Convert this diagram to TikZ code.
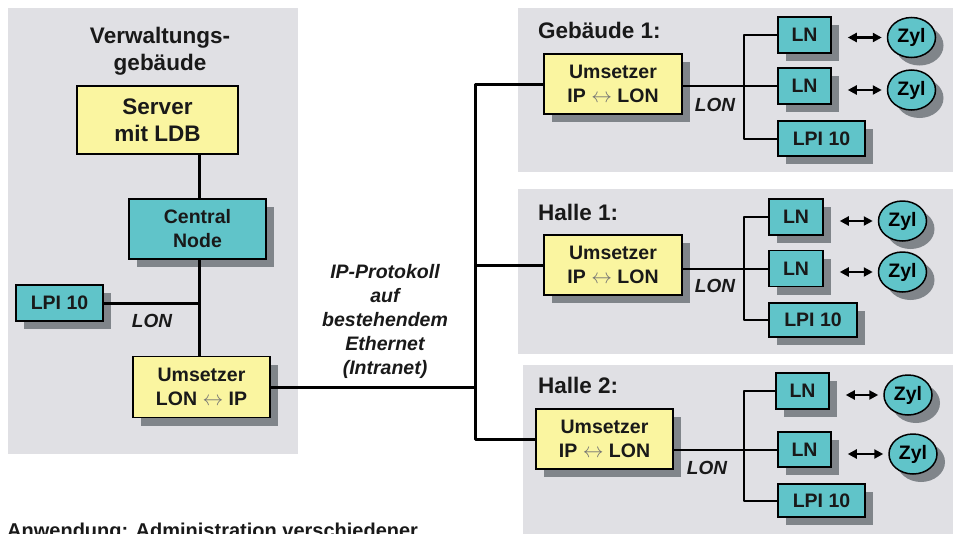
\documentclass[tikz,border=0pt]{standalone}
\usepackage{fontspec}
\setmainfont{Liberation Sans}
\usetikzlibrary{shapes.geometric,shadows,arrows.meta,calc}
\definecolor{panelgray}{RGB}{224,224,228}
\definecolor{boxyellow}{RGB}{250,245,160}
\definecolor{boxteal}{RGB}{96,196,201}
\definecolor{shadowgray}{RGB}{128,133,138}
\newcommand\bxf{\fontsize{19.5}{24}\selectfont\bfseries}
\newcommand\ttlf{\fontsize{22.5}{27}\selectfont\bfseries}
\newcommand\lonf{\fontsize{19}{24}\selectfont\bfseries\itshape}
\newcommand\lra{{\color{black!55}$\leftrightarrow$}}
\begin{document}
\begin{tikzpicture}[x=1pt,y=-1pt,
  panel/.style={fill=panelgray, draw=none},
  box/.style={draw=black, line width=1.5pt, inner sep=0pt, align=center, font=\bxf, text=black!90},
  shd/.style={general shadow={fill=shadowgray, shadow xshift=8pt, shadow yshift=-8pt}},
  ybox/.style={box, fill=boxyellow},
  tbox/.style={box, fill=boxteal},
  lnbox/.style={tbox, shd, minimum width=53pt, minimum height=36pt},
  lpibox/.style={tbox, shd, minimum width=87pt, minimum height=35pt},
  umsbox/.style={ybox, shd, minimum width=138pt, minimum height=60pt},
  zyl/.style={ellipse, draw=black, line width=1.5pt, fill=boxteal, inner sep=0pt,
    minimum width=48pt, minimum height=40pt, font=\bxf, shd},
  bus/.style={line width=3pt, line join=round},
  link/.style={line width=2pt, line join=round},
  bi/.style={line width=2.2pt, {Triangle[length=9pt,width=9pt]}-{Triangle[length=9pt,width=9pt]}},
  ttl/.style={font=\ttlf, inner sep=0pt, align=center, text=black!90},
  lon/.style={font=\lonf, inner sep=0pt, text=black!90}
]
\useasboundingbox (0,0) rectangle (953,533);
\clip (0,0) rectangle (953,533);

% background panels
\fill[panelgray] (8,8) rectangle (298,454);
\fill[panelgray] (518,8) rectangle (953,172);
\fill[panelgray] (518,189) rectangle (953,354);
\fill[panelgray] (523,365) rectangle (953,545);

% administration building
\node[ttl] (title0) at (160,51) {Verwaltungs-\\gebäude};
\node[ybox, font=\ttlf, minimum width=161pt, minimum height=68pt] (srv) at (157.5,120) {Server\\mit LDB};
\node[tbox, shd, minimum width=137pt, minimum height=60pt] (cn) at (197.5,229) {Central\\Node};
\node[tbox, shd, minimum width=87pt, minimum height=36pt] (lpi0) at (59.5,303) {LPI 10};
\node[ybox, shd, minimum width=137pt, minimum height=61pt] (umsL) at (201.5,387) {Umsetzer\\LON \lra{} IP};
\node[lon] (lon0) at (152,321) {LON};
\coordinate (jx) at (199,0);
\draw[bus] (srv.south -| jx) -- (cn.north -| jx);
\draw[bus] (cn.south -| jx) -- (umsL.north -| jx);
\draw[bus] (lpi0.east) -- (lpi0.east -| jx);

% Gebaeude 1
\node[ttl, anchor=west] (t1) at (538,30) {Gebäude 1:};
\node[umsbox] (u1) at (613,84) {Umsetzer\\IP \lra{} LON};
\node[lnbox] (ln11) at (804.5,35) {LN};
\node[lnbox] (ln12) at (804.5,86) {LN};
\node[lpibox] (lpi1) at (821.5,138.5) {LPI 10};
\node[zyl] (z11) at (911.5,37.5) {Zyl};
\node[zyl] (z12) at (911.5,90) {Zyl};
\node[lon] (lon1) at (715,105) {LON};
\coordinate (b1) at (744,0);
\draw[link] (ln11.west) -- (ln11.west -| b1) -- (lpi1.west -| b1) -- (lpi1.west);
\draw[link] (u1.east |- ln12.west) -- (ln12.west);
\draw[bi] ($(ln11.east |- z11.center)+(16,0)$) -- ($(z11.west)+(-5,0)$);
\draw[bi] ($(ln12.east |- z12.center)+(16,0)$) -- ($(z12.west)+(-5,0)$);

% Halle 1
\node[ttl, anchor=west] (t2) at (538,212) {Halle 1:};
\node[umsbox] (u2) at (613,265) {Umsetzer\\IP \lra{} LON};
\node[lnbox, minimum width=54pt] (ln21) at (796,217) {LN};
\node[lnbox, minimum width=54pt] (ln22) at (796,268.5) {LN};
\node[lpibox, minimum width=88pt, minimum height=34pt] (lpi2) at (813,320) {LPI 10};
\node[zyl] (z21) at (902.5,221) {Zyl};
\node[zyl] (z22) at (902.5,272) {Zyl};
\node[lon] (lon2) at (715,286) {LON};
\coordinate (b2) at (744,0);
\draw[link] (ln21.west) -- (ln21.west -| b2) -- (lpi2.west -| b2) -- (lpi2.west);
\draw[link] (u2.east |- ln22.west) -- (ln22.west);
\draw[bi] ($(ln21.east |- z21.center)+(16,0)$) -- ($(z21.west)+(-5,0)$);
\draw[bi] ($(ln22.east |- z22.center)+(16,0)$) -- ($(z22.west)+(-5,0)$);

% Halle 2
\node[ttl, anchor=west] (t3) at (538,385) {Halle 2:};
\node[umsbox, minimum width=137pt] (u3) at (604.5,439) {Umsetzer\\IP \lra{} LON};
\node[lnbox] (ln31) at (802.5,391) {LN};
\node[lnbox, minimum height=35pt] (ln32) at (804.5,449.5) {LN};
\node[lpibox, minimum height=33pt] (lpi3) at (821.5,500.5) {LPI 10};
\node[zyl] (z31) at (908,395) {Zyl};
\node[zyl] (z32) at (913,454) {Zyl};
\node[lon] (lon3) at (707,468) {LON};
\coordinate (b3) at (744,0);
\draw[link] (ln31.west) -- (ln31.west -| b3) -- (lpi3.west -| b3) -- (lpi3.west);
\draw[link] (u3.east |- ln32.west) -- (ln32.west);
\draw[bi] ($(ln31.east |- z31.center)+(16,0)$) -- ($(z31.west)+(-5,0)$);
\draw[bi] ($(ln32.east |- z32.center)+(16,0)$) -- ($(z32.west)+(-5,0)$);

% intranet backbone
\coordinate (bx) at (475,0);
\draw[bus] (u1.west) -- (u1.west -| bx) -- (u3.west -| bx) -- (u3.west);
\draw[bus] (u2.west) -- (u2.west -| bx);
\draw[bus] (umsL.east) -- (umsL.east -| bx);
\node[font=\bxf\itshape, align=center, inner sep=0pt, text=black!90] (ipnote) at (385,321)
  {IP-Protokoll\\auf\\bestehendem\\Ethernet\\(Intranet)};

% caption line, running on below the lower edge
\node[anchor=base west, inner sep=0pt, font=\fontsize{20}{24}\selectfont\bfseries, text=black!90] (caption) at (7,537)
  {Anwendung: Administration verschiedener};
\end{tikzpicture}
\end{document}
